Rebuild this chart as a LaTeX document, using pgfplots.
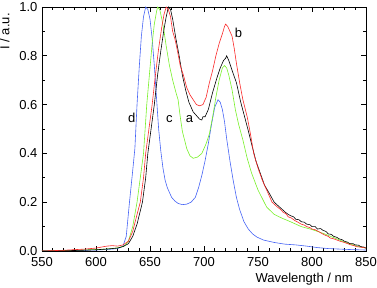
\documentclass[border=0pt]{standalone}
\usepackage{pgfplots}
\pgfplotsset{compat=1.18}
\usepackage{fontspec}
\setmainfont{Liberation Sans}
\definecolor{cblue}{RGB}{70,100,245}
\definecolor{cgreen}{RGB}{120,240,40}
\definecolor{cred}{RGB}{250,40,40}
\begin{document}
\begin{tikzpicture}
\begin{axis}[
  at={(0,0)}, anchor=south west,
  scale only axis, width=324pt, height=244pt,
  xmin=550, xmax=850, ymin=0, ymax=1,
  xtick={550,600,...,850}, minor x tick num=4,
  ytick={0,0.2,...,1.0}, minor y tick num=1,
  yticklabel style={xshift=-1pt, /pgf/number format/.cd,fixed,fixed zerofill,precision=1},
  xticklabel style={yshift=-2.5pt},
  /pgf/number format/assume math mode=true,
  tick label style={font=\fontsize{13}{15}\selectfont},
  label style={font=\fontsize{13}{15}\selectfont},
  tick align=inside, major tick length=5pt, minor tick length=3pt,
  every tick/.style={black, line width=0.6pt},
  axis line style={line width=0.8pt},
  xlabel={Wavelength / nm},
  ylabel={I / a.u.},
  xlabel style={at={(axis description cs:0.809,-0.115)}, anchor=center},
  ylabel style={at={(axis description cs:-0.115,0.9)}, anchor=center},
  clip=true,
]
% d (blue)
\addplot[cblue, line width=0.6pt] coordinates {
(550,0)(570,0.002)(590,0.003)(600,0.004)(610,0.006)(620,0.01)(625,0.02)(628,0.06)(631,0.2)(634,0.33)(636,0.42)(638,0.6)(640,0.75)(642,0.88)(644,0.96)(646,1.0)(648,0.99)(650,0.95)(652,0.87)(654,0.76)(656,0.63)(658,0.5)(660,0.41)(662,0.34)(664,0.29)(666,0.26)(668,0.24)(670,0.22)(673,0.205)(676,0.195)(680,0.19)(684,0.192)(688,0.2)(692,0.22)(695,0.26)(698,0.31)(701,0.37)(704,0.44)(707,0.52)(710,0.59)(713,0.62)(715,0.61)(717,0.58)(719,0.53)(721,0.46)(724,0.37)(727,0.29)(730,0.22)(733,0.17)(737,0.12)(741,0.09)(745,0.07)(749,0.057)(755,0.045)(765,0.035)(775,0.028)(785,0.025)(795,0.02)(805,0.014)(815,0.01)(825,0.008)(835,0.006)(850,0.004)
};
% c (green)
\addplot[cgreen, line width=0.6pt] coordinates {
(550,0)(580,0.003)(600,0.006)(610,0.008)(620,0.013)(626,0.02)(630,0.04)(634,0.1)(638,0.2)(641,0.3)(644,0.4)(647,0.6)(650,0.75)(652,0.85)(654,0.93)(656,0.98)(657,1.0)(659,0.99)(661,0.95)(663,0.9)(665,0.84)(668,0.76)(671,0.7)(674,0.65)(676,0.62)(678,0.55)(680,0.49)(684,0.42)(687,0.39)(690,0.38)(694,0.385)(698,0.4)(702,0.44)(705,0.48)(708,0.55)(711,0.63)(714,0.7)(717,0.75)(719,0.76)(721,0.75)(723,0.72)(726,0.66)(729,0.58)(732,0.52)(736,0.455)(740,0.38)(744,0.32)(750,0.25)(758,0.18)(765,0.15)(772,0.135)(780,0.12)(790,0.1)(800,0.088)(810,0.073)(820,0.055)(830,0.037)(840,0.022)(850,0.012)
};
% a (black)
\addplot[black, line width=0.6pt] coordinates {
(550,0)(580,0.002)(600,0.005)(610,0.008)(620,0.012)(625,0.018)(630,0.03)(634,0.06)(638,0.11)(643,0.2)(646,0.3)(648,0.4)(651,0.5)(654,0.6)(657,0.72)(660,0.82)(663,0.91)(665,0.96)(667,1.0)(669,0.99)(671,0.95)(674,0.87)(677,0.8)(680,0.72)(683,0.66)(686,0.61)(690,0.57)(694,0.55)(696,0.54)(698,0.537)(699,0.55)(701,0.55)(704,0.58)(708,0.65)(712,0.71)(715,0.75)(718,0.78)(720,0.79)(721,0.80)(723,0.78)(726,0.74)(730,0.69)(734,0.61)(737,0.56)(740,0.51)(744,0.44)(748,0.37)(752,0.32)(756,0.27)(760,0.24)(765,0.2)(770,0.18)(775,0.16)(778,0.15)(780,0.145)(783,0.14)(785,0.13)(788,0.128)(790,0.12)(793,0.118)(795,0.11)(798,0.108)(800,0.10)(803,0.1)(805,0.09)(808,0.092)(810,0.085)(813,0.08)(815,0.07)(818,0.068)(820,0.06)(823,0.056)(825,0.05)(828,0.046)(830,0.04)(833,0.036)(835,0.03)(838,0.03)(840,0.025)(843,0.024)(845,0.018)(848,0.016)(850,0.012)
};
% b (red)
\addplot[cred, line width=0.6pt] coordinates {
(550,0)(570,0.003)(590,0.008)(600,0.012)(610,0.02)(615,0.022)(620,0.02)(625,0.025)(630,0.04)(634,0.08)(638,0.15)(641,0.2)(644,0.3)(646,0.4)(649,0.5)(652,0.6)(655,0.72)(658,0.83)(661,0.92)(663,0.97)(665,1.0)(667,0.99)(669,0.96)(671,0.9)(673,0.87)(675,0.83)(678,0.76)(681,0.72)(684,0.67)(687,0.64)(690,0.62)(693,0.6)(696,0.595)(699,0.6)(702,0.63)(705,0.69)(708,0.74)(711,0.8)(714,0.85)(717,0.89)(719,0.92)(720,0.93)(722,0.92)(724,0.9)(726,0.88)(728,0.83)(730,0.77)(733,0.69)(736,0.62)(740,0.55)(743,0.48)(746,0.40)(750,0.34)(754,0.29)(758,0.25)(763,0.2)(768,0.18)(771,0.17)(773,0.16)(776,0.152)(778,0.14)(781,0.135)(784,0.125)(787,0.118)(790,0.11)(793,0.106)(795,0.10)(798,0.096)(800,0.09)(803,0.087)(806,0.08)(809,0.072)(812,0.065)(815,0.06)(817,0.053)(820,0.05)(823,0.045)(826,0.04)(830,0.035)(833,0.03)(836,0.025)(839,0.022)(841,0.018)(846,0.015)(850,0.012)
};
\node[font=\fontsize{13}{15}\selectfont] at (axis cs:633,0.545) {d};
\node[font=\fontsize{13}{15}\selectfont] at (axis cs:668,0.539) {c};
\node[font=\fontsize{13}{15}\selectfont] at (axis cs:686.6,0.541) {a};
\node[font=\fontsize{13}{15}\selectfont] at (axis cs:732,0.895) {b};
\end{axis}
\pgfresetboundingbox
\path (-42pt,-37pt) rectangle (335pt,251pt);
\end{tikzpicture}
\end{document}
